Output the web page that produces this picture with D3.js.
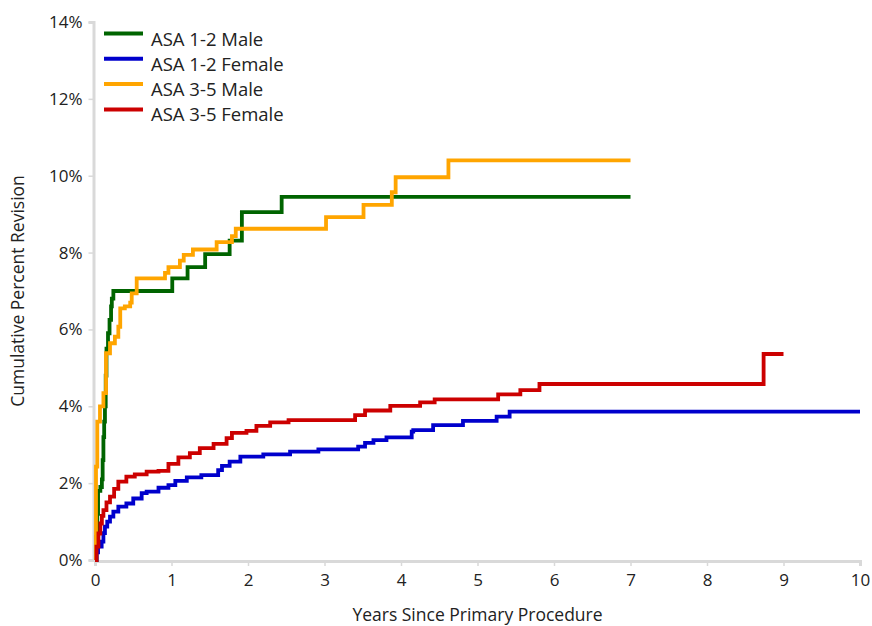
<!DOCTYPE html>
<html>
<head>
<meta charset="utf-8">
<script src="https://cdn.jsdelivr.net/npm/d3@7"></script>
<style>
  body { margin: 0; background: #fff; }
  text { font-family: "Open Sans", "Noto Sans", sans-serif; fill: #222; }
</style>
</head>
<body>
<script>
const seriesNames = ["ASA 1-2 Male", "ASA 1-2 Female", "ASA 3-5 Male", "ASA 3-5 Female"];
const seriesColors = ["#006400", "#0000cc", "#ffa500", "#cc0000"];

const maleAsa12Years = [0, 0.02, 0.03, 0.04, 0.07, 0.09, 0.1, 0.11, 0.12, 0.13, 0.14, 0.15, 0.17, 0.19, 0.21, 0.22, 0.24, 1.01, 1.21, 1.44, 1.76, 1.92, 2.44, 7.0];
const maleAsa12Pct = [0, 0.6, 1.2, 1.8, 1.9, 2.1, 2.6, 3.2, 3.6, 4.0, 4.8, 5.5, 5.9, 6.25, 6.6, 6.8, 7.0, 7.33, 7.62, 7.96, 8.31, 9.05, 9.45, 9.45];

const femaleAsa12Years = [0, 0.02, 0.04, 0.087, 0.11, 0.13, 0.16, 0.196, 0.24, 0.305, 0.41, 0.5, 0.61, 0.675, 0.83, 0.96, 1.05, 1.2, 1.39, 1.61, 1.66, 1.76, 1.9, 2.2, 2.55, 2.92, 3.44, 3.53, 3.64, 3.81, 4.14, 4.16, 4.42, 4.81, 5.25, 5.42, 10.0];
const femaleAsa12Pct = [0, 0.2, 0.35, 0.48, 0.7, 0.87, 1.0, 1.13, 1.26, 1.39, 1.47, 1.6, 1.74, 1.78, 1.88, 1.95, 2.06, 2.15, 2.21, 2.34, 2.45, 2.56, 2.69, 2.75, 2.82, 2.88, 2.95, 3.05, 3.12, 3.19, 3.34, 3.38, 3.51, 3.62, 3.73, 3.86, 3.86];

const maleAsa35Years = [0, 0.013, 0.03, 0.065, 0.11, 0.144, 0.196, 0.26, 0.305, 0.33, 0.39, 0.46, 0.48, 0.545, 0.915, 0.96, 1.11, 1.16, 1.28, 1.59, 1.79, 1.84, 3.02, 3.51, 3.88, 3.93, 4.62, 7.0];
const maleAsa35Pct = [0, 2.43, 3.6, 4.0, 4.34, 5.38, 5.64, 5.81, 6.07, 6.55, 6.6, 6.7, 6.94, 7.33, 7.47, 7.62, 7.79, 7.94, 8.08, 8.27, 8.43, 8.62, 8.92, 9.24, 9.57, 9.96, 10.4, 10.4];

const femaleAsa35Years = [0, 0.02, 0.045, 0.07, 0.09, 0.11, 0.15, 0.196, 0.25, 0.305, 0.41, 0.52, 0.675, 0.83, 0.96, 1.09, 1.24, 1.37, 1.55, 1.72, 1.79, 1.98, 2.11, 2.29, 2.53, 3.4, 3.53, 3.86, 4.25, 4.44, 5.27, 5.56, 5.81, 8.74, 9.0];
const femaleAsa35Pct = [0, 0.35, 0.69, 0.95, 1.15, 1.3, 1.5, 1.65, 1.85, 2.04, 2.17, 2.23, 2.3, 2.32, 2.5, 2.67, 2.78, 2.91, 3.02, 3.17, 3.31, 3.36, 3.49, 3.58, 3.64, 3.77, 3.89, 4.01, 4.1, 4.18, 4.31, 4.42, 4.58, 5.36, 5.36];

const xTicks = [0, 1, 2, 3, 4, 5, 6, 7, 8, 9, 10];
const yTicks = [0, 2, 4, 6, 8, 10, 12, 14];

const seriesYears = [maleAsa12Years, femaleAsa12Years, maleAsa35Years, femaleAsa35Years];
const seriesPct = [maleAsa12Pct, femaleAsa12Pct, maleAsa35Pct, femaleAsa35Pct];

const w = 872;
const h = 626;
const margin = { top: 22, right: 12, bottom: 66, left: 95 };

const svg = d3.select("body")
  .append("svg")
  .attr("width", w)
  .attr("height", h);

const xScale = d3.scaleLinear().domain([0, 10]).range([margin.left, w - margin.right]);
const yScale = d3.scaleLinear().domain([0, 14]).range([h - margin.bottom, margin.top]);

// Axes
const xAxis = d3.axisBottom(xScale).tickValues(xTicks).tickSize(5).tickPadding(8);
const yAxis = d3.axisLeft(yScale).tickValues(yTicks).tickSize(5).tickPadding(6).tickFormat((d) => d + "%");

const gx = svg.append("g")
  .attr("transform", `translate(0, ${h - margin.bottom + 1})`)
  .call(xAxis);
const gy = svg.append("g")
  .attr("transform", `translate(${margin.left - 1.5}, 0)`)
  .call(yAxis);

[gx, gy].forEach((g) => {
  g.select(".domain").attr("stroke", "#d9d9d9").attr("stroke-width", 3);
  g.selectAll(".tick line").attr("stroke", "#d9d9d9").attr("stroke-width", 1.5);
  g.selectAll(".tick text").style("font-size", "17px").attr("fill", "#222");
});

// Lines
const line = d3.line()
  .x((d) => xScale(d[0]))
  .y((d) => yScale(d[1]))
  .curve(d3.curveStepAfter);

seriesNames.forEach((name, i) => {
  const pts = seriesYears[i].map((t, j) => [t, seriesPct[i][j]]);
  svg.append("path")
    .datum(pts)
    .attr("fill", "none")
    .attr("stroke", seriesColors[i])
    .attr("stroke-width", 3.8)
    .attr("stroke-linejoin", "miter")
    .attr("d", line);
});

// Legend
const legend = svg.append("g").attr("transform", "translate(104, 33.5)");
seriesNames.forEach((name, i) => {
  const yy = i * 25.3;
  legend.append("line")
    .attr("x1", 0).attr("x2", 39)
    .attr("y1", yy).attr("y2", yy)
    .attr("stroke", seriesColors[i])
    .attr("stroke-width", 4);
  legend.append("text")
    .attr("x", 47)
    .attr("y", yy + 12)
    .style("font-size", "18.5px")
    .text(name);
});

// Axis titles
svg.append("text")
  .attr("x", (margin.left + w - margin.right) / 2)
  .attr("y", 621)
  .attr("text-anchor", "middle")
  .style("font-size", "17.5px")
  .text("Years Since Primary Procedure");

svg.append("text")
  .attr("transform", `translate(24, ${(margin.top + h - margin.bottom) / 2}) rotate(-90)`)
  .attr("text-anchor", "middle")
  .style("font-size", "17.5px")
  .text("Cumulative Percent Revision");
</script>
</body>
</html>
